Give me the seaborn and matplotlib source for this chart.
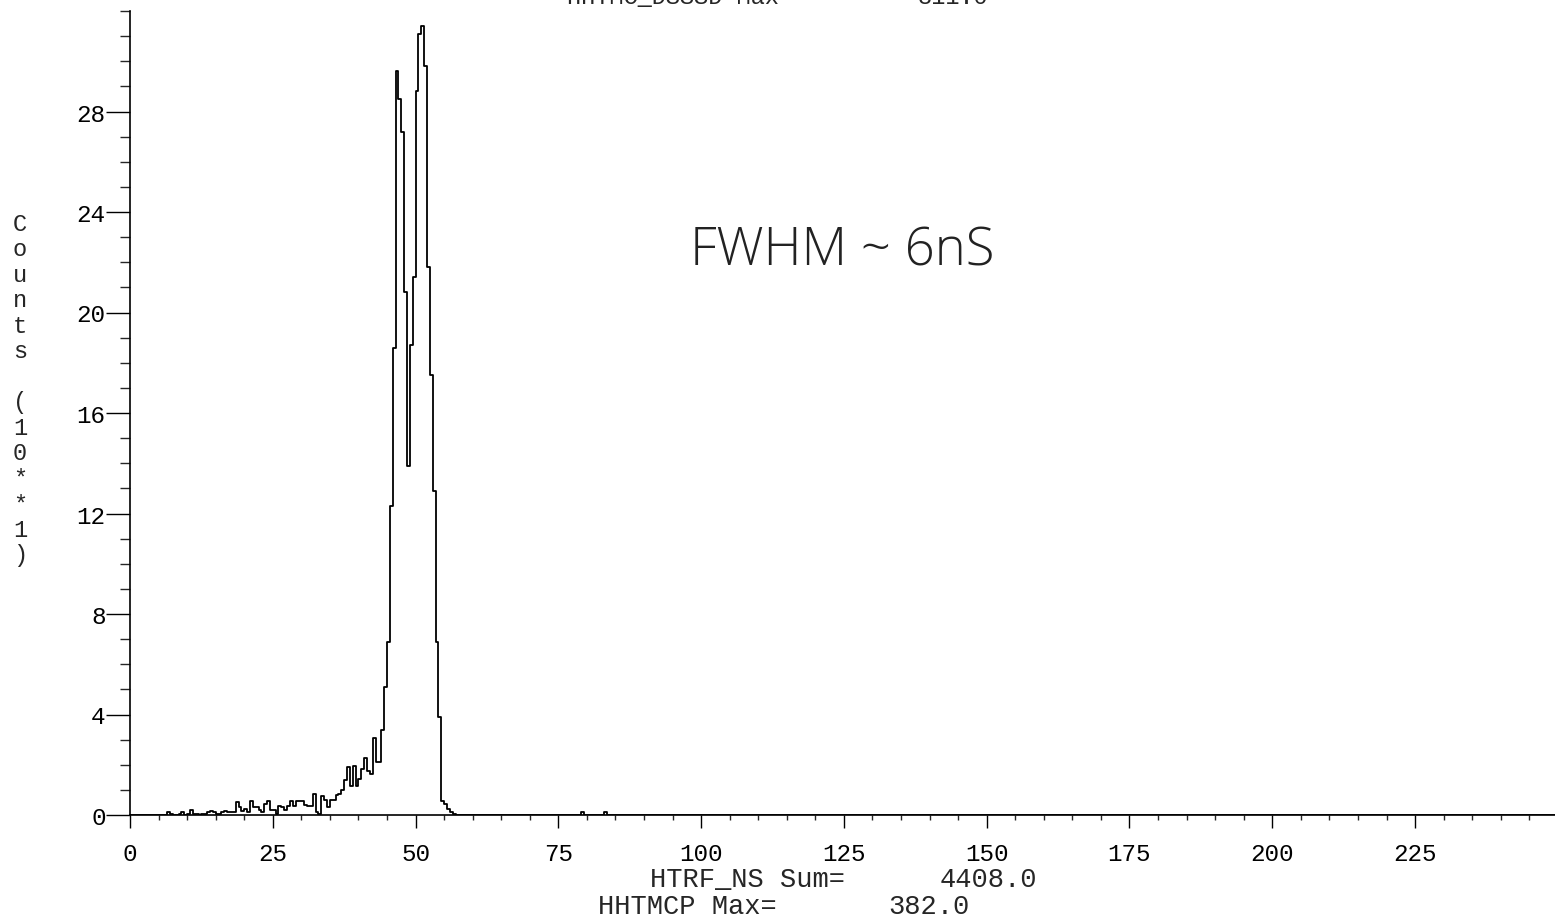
import numpy as np
import pandas as pd
import matplotlib
matplotlib.use("Agg")
import matplotlib.pyplot as plt
from matplotlib.ticker import MultipleLocator
import seaborn as sns

# HTRF_NS spectrum, counts in units of 10**1, bins of 0.5 ns
bin_width = 0.5
tail_start = 6.0
tail_counts = [0, 0.1, 0.05, 0, 0, 0.05, 0.1, 0, 0.05, 0.2,
               0.05, 0.05, 0, 0.05, 0.05, 0.1, 0.15, 0.1, 0.05, 0.05,
               0.1, 0.15, 0.1, 0.1, 0.1, 0.5, 0.3, 0.15, 0.25, 0.1,
               0.55, 0.3, 0.3, 0.2, 0.1, 0.45, 0.55, 0.2, 0.2, 0.05,
               0.35, 0.3, 0.2, 0.35, 0.55, 0.35, 0.55, 0.55, 0.55, 0.4,
               0.35, 0.35, 0.85, 0.1, 0.05, 0.75, 0.6, 0.3, 0.6, 0.6,
               0.8, 0.85, 1.0, 1.4, 1.9, 1.15, 1.95, 1.15, 1.45, 1.85,
               2.25, 1.75, 1.65, 3.05, 2.1, 2.1]
peak_start = 44.0
peak_counts = [3.4, 5.1, 6.9, 12.3, 18.6, 29.6, 28.5, 27.2, 20.8, 13.9,
               18.7, 21.4, 28.8, 31.1, 31.4, 29.8, 21.8, 17.5, 12.9, 6.9,
               3.9, 0.56, 0.44, 0.24, 0.1, 0.05]
blip_bins = [79.0, 83.0]
blip_counts = [0.1, 0.12]

x_ticks = [0, 25, 50, 75, 100, 125, 150, 175, 200, 225]
y_ticks = [0, 4, 8, 12, 16, 20, 24, 28]

top_label, top_value = "HHTMC_DSSSD Max=", "311.0"
sum_label, sum_value = "HTRF_NS Sum=", "4408.0"
max_label, max_value = "HHTMCP Max=", "382.0"
note = "FWHM ~ 6nS"

# assemble the spectrum table
tail_x = tail_start + bin_width * np.arange(len(tail_counts)) + bin_width / 2
peak_x = peak_start + bin_width * np.arange(len(peak_counts)) + bin_width / 2
blip_x = np.array(blip_bins) + bin_width / 2
df = pd.DataFrame({
    "ns": np.concatenate([tail_x, peak_x, blip_x]),
    "counts": np.concatenate([tail_counts, peak_counts, blip_counts]),
})

sns.set_style("ticks")
plt.rcParams["font.family"] = ["Liberation Mono", "DejaVu Sans Mono"]

fig = plt.figure(figsize=(15.55, 9.2), dpi=100)
ax = fig.add_axes([130 / 1555, 104 / 920, 1 - 130 / 1555, 804 / 920])

sns.histplot(data=df, x="ns", weights="counts", bins=int(250 / bin_width),
             binrange=(0, 250), element="step", fill=False, color="black",
             linewidth=1.3, ax=ax)

ax.set_xlim(0, 249.5)
ax.set_ylim(0, 32)
ax.set_xlabel("")
ax.set_ylabel("")
sns.despine(ax=ax, top=True, right=True)
for s in ["left", "bottom"]:
    ax.spines[s].set_linewidth(1.2)
    ax.spines[s].set_color("black")

ax.set_xticks(x_ticks)
ax.set_yticks(y_ticks)
ax.xaxis.set_minor_locator(MultipleLocator(5))
ax.yaxis.set_minor_locator(MultipleLocator(1))
ax.tick_params(axis="x", which="major", length=9.5, width=1, pad=10,
               labelsize=17.5, colors="black")
ax.tick_params(axis="x", which="minor", length=3.6, width=1)
ax.tick_params(axis="y", which="major", length=17, width=1, pad=0.5,
               labelsize=17.5, colors="black")
ax.tick_params(axis="y", which="minor", length=7, width=1)

# stacked vertical axis title
fig.text(20 / 1555, 1 - 390 / 920, "\n".join("Counts (10**1)"),
         ha="center", va="center", fontsize=17, linespacing=1.14)

# footer summary lines
fig.text(650 / 1555, 1 - 880 / 920, sum_label, ha="left", va="center", fontsize=19.5)
fig.text(940 / 1555, 1 - 880 / 920, sum_value, ha="left", va="center", fontsize=19.5)
fig.text(598 / 1555, 1 - 907 / 920, max_label, ha="left", va="center", fontsize=19.5)
fig.text(888 / 1555, 1 - 907 / 920, max_value, ha="left", va="center", fontsize=19.5)

# header line, cut off by the scan
fig.text(567 / 1555, 1 - 4 / 920, top_label, ha="left", va="baseline", fontsize=17)
fig.text(918 / 1555, 1 - 4 / 920, top_value, ha="left", va="baseline", fontsize=17)

# handwritten note
fig.text(690 / 1555, 1 - 252 / 920, note, ha="left", va="center", fontsize=38,
         family=["Open Sans", "DejaVu Sans"], fontweight="light", color="#222222")

fig.savefig("out.png", dpi=100, facecolor="white")
